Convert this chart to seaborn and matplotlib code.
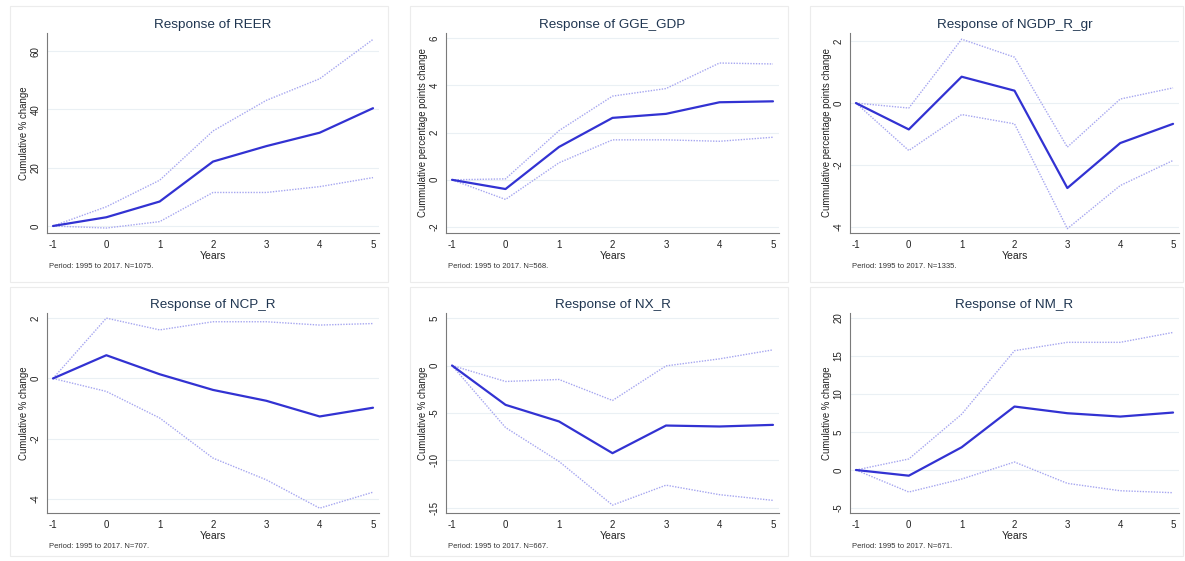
import matplotlib
matplotlib.use("Agg")
import matplotlib.pyplot as plt
import seaborn as sns
import numpy as np
from matplotlib.patches import Rectangle

sns.set_style("white")
plt.rcParams['font.family'] = ['Liberation Sans', 'DejaVu Sans']

W, H = 1185, 561

years = [-1, 0, 1, 2, 3, 4, 5]

reer_irf = [0, 3.0, 8.4, 22.1, 27.4, 32.0, 40.4]
reer_hi = [0, 6.6, 15.7, 32.6, 43.1, 50.5, 64.0]
reer_lo = [0, -0.7, 1.5, 11.5, 11.5, 13.5, 16.6]

gge_irf = [0, -0.39, 1.39, 2.62, 2.79, 3.28, 3.32]
gge_hi = [0, 0.04, 2.08, 3.54, 3.86, 4.94, 4.90]
gge_lo = [0, -0.83, 0.72, 1.69, 1.69, 1.63, 1.80]

ngdp_irf = [0, -0.85, 0.85, 0.40, -2.74, -1.29, -0.67]
ngdp_hi = [0, -0.16, 2.06, 1.48, -1.42, 0.13, 0.49]
ngdp_lo = [0, -1.53, -0.37, -0.67, -4.05, -2.66, -1.85]

ncp_irf = [0, 0.77, 0.14, -0.38, -0.74, -1.26, -0.97]
ncp_hi = [0, 2.0, 1.61, 1.88, 1.88, 1.77, 1.82]
ncp_lo = [0, -0.43, -1.31, -2.64, -3.36, -4.30, -3.77]

nx_irf = [0, -4.14, -5.89, -9.23, -6.32, -6.42, -6.25]
nx_hi = [0, -1.68, -1.47, -3.68, -0.04, 0.70, 1.65]
nx_lo = [0, -6.53, -10.1, -14.7, -12.6, -13.6, -14.2]

nm_irf = [0, -0.75, 2.99, 8.35, 7.47, 7.03, 7.56]
nm_hi = [0, 1.45, 7.34, 15.7, 16.8, 16.8, 18.1]
nm_lo = [0, -2.90, -1.19, 1.05, -1.76, -2.73, -2.99]

titles = ["Response of REER", "Response of GGE_GDP", "Response of NGDP_R_gr",
          "Response of NCP_R", "Response of NX_R", "Response of NM_R"]
ylabels = ["Cumulative % change", "Cummulative percentage points change",
           "Cummulative percentage points change", "Cumulative % change",
           "Cumulative % change", "Cumulative % change"]
notes = ["Period: 1995 to 2017. N=1075.", "Period: 1995 to 2017. N=568.",
         "Period: 1995 to 2017. N=1335.", "Period: 1995 to 2017. N=707.",
         "Period: 1995 to 2017. N=667.", "Period: 1995 to 2017. N=671."]
yticks = [[0, 20, 40, 60], [-2, 0, 2, 4, 6], [-4, -2, 0, 2],
          [-4, -2, 0, 2], [-15, -10, -5, 0, 5], [-5, 0, 5, 10, 15, 20]]
series = [(reer_irf, reer_hi, reer_lo), (gge_irf, gge_hi, gge_lo),
          (ngdp_irf, ngdp_hi, ngdp_lo), (ncp_irf, ncp_hi, ncp_lo),
          (nx_irf, nx_hi, nx_lo), (nm_irf, nm_hi, nm_lo)]
ylims = [(-2.4, 66.2), (-2.25, 6.21), (-4.19, 2.26),
         (-4.46, 2.17), (-15.53, 5.53), (-5.66, 20.66)]

# layout in pixels (x0, y0, x1, y1)
axes_px = [(47, 33, 379, 233), (446, 33, 779, 233), (850, 33, 1179, 233),
           (47, 313, 379, 513), (446, 313, 779, 513), (850, 313, 1179, 513)]
panel_px = [(10, 6, 388, 282), (410, 6, 788, 282), (810, 6, 1183, 282),
            (10, 287, 388, 556), (410, 287, 788, 556), (810, 287, 1183, 556)]

main_col = "#3232d2"
ci_col = "#a6a6f0"
title_col = "#1f3550"
axis_col = "#7a7a7a"

fig = plt.figure(figsize=(W / 100, H / 100), dpi=100)
fig.patch.set_facecolor("white")

for i in range(6):
    px0, py0, px1, py1 = panel_px[i]
    fig.patches.append(Rectangle((px0 / W, 1 - py1 / H), (px1 - px0) / W, (py1 - py0) / H,
                                 transform=fig.transFigure, fill=False,
                                 edgecolor="#ececec", linewidth=0.8))
    x0, y0, x1, y1 = axes_px[i]
    ax = fig.add_axes([x0 / W, 1 - y1 / H, (x1 - x0) / W, (y1 - y0) / H])
    irf, hi, lo = series[i]
    sns.lineplot(x=years, y=hi, ax=ax, color=ci_col, linewidth=1.0)
    sns.lineplot(x=years, y=lo, ax=ax, color=ci_col, linewidth=1.0)
    ax.lines[0].set_linestyle((0, (1, 1)))
    ax.lines[1].set_linestyle((0, (1, 1)))
    sns.lineplot(x=years, y=irf, ax=ax, color=main_col, linewidth=1.6)
    ax.set_xlim(-1 - 6 / 53.3, 5 + 6 / 53.3)
    ax.set_ylim(*ylims[i])
    ax.set_xticks(years)
    ax.set_xticklabels([str(y) for y in years])
    ax.set_yticks(yticks[i])
    ax.set_yticklabels([str(t) for t in yticks[i]], rotation=90, va="center")
    for t in yticks[i]:
        ax.axhline(t, color="#eaf0f4", linewidth=0.8, zorder=0)
    for s in ["top", "right"]:
        ax.spines[s].set_visible(False)
    for s in ["left", "bottom"]:
        ax.spines[s].set_color(axis_col)
        ax.spines[s].set_linewidth(0.8)
    ax.tick_params(axis="both", which="both", direction="out", length=3, width=0.7,
                   color=axis_col, labelsize=7, labelcolor="#222222", pad=1.5)
    ax.tick_params(axis="x", pad=2)
    ax.set_xlabel("")
    ax.set_ylabel("")
    ax.set_facecolor("white")
    cx = (x0 + x1) / 2
    fig.text(cx / W, 1 - (y0 - 8) / H, titles[i], ha="center", va="center",
             fontsize=9.7, color=title_col)
    fig.text(cx / W, 1 - (y1 + 23) / H, "Years", ha="center", va="center",
             fontsize=7.5, color="#222222")
    fig.text((x0 + 2) / W, 1 - (y1 + 34) / H, notes[i], ha="left", va="center",
             fontsize=5.5, color="#333333")
    fig.text((x0 - 23) / W, 1 - ((y0 + y1) / 2) / H, ylabels[i], ha="center",
             va="center", rotation=90, fontsize=6.9, color="#222222")

fig.savefig("out.png", dpi=100, facecolor="white")
